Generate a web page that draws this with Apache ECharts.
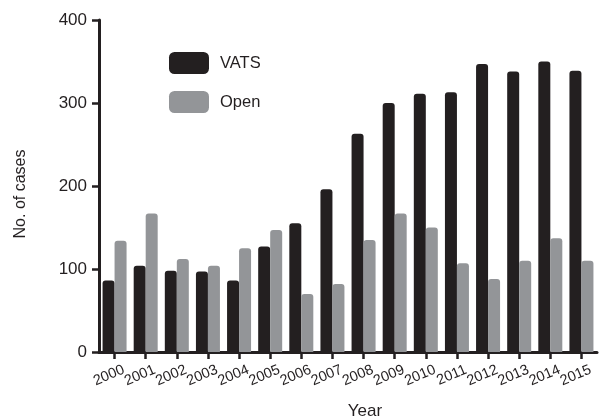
<!DOCTYPE html>
<html>
<head>
<meta charset="utf-8">
<script src="https://cdn.jsdelivr.net/npm/echarts@6/dist/echarts.min.js"></script>
<style>
  html, body { margin: 0; padding: 0; background: #ffffff; }
  #chart { width: 600px; height: 418px; }
</style>
</head>
<body>
<div id="chart"></div>
<script>
// Surgical case counts per year, by approach
const years = ['2000', '2001', '2002', '2003', '2004', '2005', '2006', '2007',
               '2008', '2009', '2010', '2011', '2012', '2013', '2014', '2015'];
const vatsCases = [86, 104, 98, 97, 86, 127, 155, 196, 263, 300, 311, 313, 347, 338, 350, 339];
const openCases = [134, 167, 112, 104, 125, 147, 70, 82, 135, 167, 150, 107, 88, 110, 137, 110];
const yTicks = [0, 100, 200, 300, 400];

const FONT = '"Liberation Sans", Arial, Helvetica, sans-serif';
const INK = '#231f20';
const GREY = '#939598';

const chart = echarts.init(document.getElementById('chart'), null, { renderer: 'canvas' });

chart.setOption({
  backgroundColor: '#ffffff',
  animation: false,
  textStyle: { fontFamily: FONT, color: INK },
  grid: { left: 99, right: 3, top: 20, bottom: 66, containLabel: false, outerBoundsMode: 'none' },
  legend: {
    orient: 'vertical',
    left: 164,
    top: 47,
    itemWidth: 40,
    itemHeight: 22,
    itemGap: 17,
    icon: 'roundRect',
    selectedMode: false,
    textStyle: { fontFamily: FONT, fontSize: 16.5, color: INK, padding: [0, 0, 0, 6] },
    data: ['VATS', 'Open']
  },
  xAxis: {
    type: 'category',
    data: years,
    boundaryGap: true,
    name: 'Year',
    nameLocation: 'middle',
    nameGap: 51,
    nameTextStyle: { fontFamily: FONT, fontSize: 17, color: INK, padding: [0, 0, 0, 34] },
    axisLine: { show: true, lineStyle: { color: INK, width: 3 } },
    axisTick: { show: true, alignWithLabel: true, length: 7, lineStyle: { color: INK, width: 2.5 } },
    axisLabel: {
      rotate: 23,
      interval: 0,
      margin: 21,
      fontFamily: FONT,
      fontSize: 14.5,
      color: INK,
      padding: [0, -10, 0, 0]
    },
    splitLine: { show: false }
  },
  yAxis: {
    type: 'value',
    min: yTicks[0],
    max: yTicks[yTicks.length - 1],
    interval: 100,
    name: 'No. of cases',
    nameLocation: 'middle',
    nameGap: 70,
    nameRotate: 90,
    nameTextStyle: { fontFamily: FONT, fontSize: 16, color: INK, padding: [0, 16, 0, 0] },
    axisLine: { show: true, lineStyle: { color: INK, width: 3 } },
    axisTick: { show: true, length: 7, lineStyle: { color: INK, width: 2.5 } },
    axisLabel: { margin: 12, fontFamily: FONT, fontSize: 17, color: INK },
    splitLine: { show: false }
  },
  series: [
    {
      name: 'VATS',
      type: 'bar',
      data: vatsCases,
      barWidth: 12,
      barGap: '0%',
      itemStyle: { color: INK, borderRadius: [3, 3, 0, 0] }
    },
    {
      name: 'Open',
      type: 'bar',
      data: openCases,
      barWidth: 12,
      barGap: '0%',
      itemStyle: { color: GREY, borderRadius: [3, 3, 0, 0] }
    }
  ]
});
</script>
</body>
</html>
